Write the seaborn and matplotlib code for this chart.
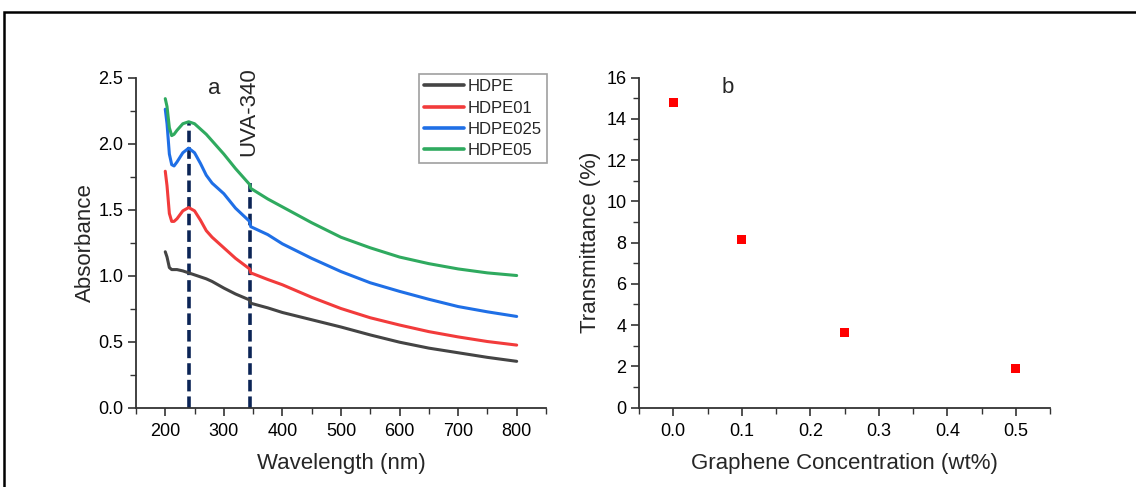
import pandas as pd
import matplotlib.pyplot as plt
import seaborn as sns
from matplotlib.patches import Rectangle
from matplotlib.ticker import MultipleLocator

# (a) absorbance spectra
wavelength = [200, 203, 207, 211, 215, 220, 230, 240, 250, 260, 270, 280, 290, 300, 320,
              344, 346, 375, 400, 450, 500, 550, 600, 650, 700, 750, 800]
hdpe = [1.18, 1.14, 1.06, 1.045, 1.045, 1.045, 1.035, 1.02, 1.005, 0.99, 0.975, 0.955, 0.93, 0.905, 0.86,
        0.815, 0.79, 0.755, 0.72, 0.665, 0.61, 0.55, 0.495, 0.45, 0.415, 0.38, 0.35]
hdpe01 = [1.79, 1.68, 1.47, 1.41, 1.41, 1.43, 1.49, 1.515, 1.49, 1.42, 1.34, 1.29, 1.25, 1.21, 1.13,
          1.05, 1.02, 0.97, 0.93, 0.835, 0.75, 0.68, 0.625, 0.575, 0.535, 0.50, 0.473]
hdpe025 = [2.26, 2.15, 1.92, 1.84, 1.83, 1.86, 1.93, 1.965, 1.93, 1.85, 1.76, 1.70, 1.66, 1.62, 1.51,
           1.41, 1.37, 1.31, 1.24, 1.13, 1.03, 0.945, 0.88, 0.82, 0.765, 0.725, 0.69]
hdpe05 = [2.34, 2.28, 2.12, 2.06, 2.07, 2.10, 2.15, 2.165, 2.15, 2.11, 2.07, 2.02, 1.97, 1.92, 1.81,
          1.69, 1.66, 1.58, 1.52, 1.40, 1.29, 1.21, 1.14, 1.09, 1.05, 1.02, 1.00]
samples = ["HDPE", "HDPE01", "HDPE025", "HDPE05"]
colors = ["#444444", "#f23b3b", "#1f6fe6", "#2faa5f"]

# marker lines: 240 nm peak and UVA-340
marker_x = [240, 345]
marker_top = [2.17, 1.70]

# (b) transmittance
concentration = [0.0, 0.1, 0.25, 0.5]
transmittance = [14.78, 8.16, 3.62, 1.91]

rows = []
for name, vals in zip(samples, [hdpe, hdpe01, hdpe025, hdpe05]):
    for w, v in zip(wavelength, vals):
        rows.append({"wavelength": w, "absorbance": v, "sample": name})
df = pd.DataFrame(rows)
df_b = pd.DataFrame({"conc": concentration, "trans": transmittance})

sns.set_style("ticks")
plt.rcParams['font.family'] = ['Liberation Sans', 'DejaVu Sans']

fig = plt.figure(figsize=(11.36, 4.87), dpi=100)
ax1 = fig.add_axes([0.1197, 0.1632, 0.3609, 0.6776])
ax2 = fig.add_axes([0.5625, 0.1632, 0.3618, 0.6776])

sns.lineplot(data=df, x="wavelength", y="absorbance", hue="sample", hue_order=samples,
             palette=colors, linewidth=2.2, ax=ax1, legend=False)
for x, top in zip(marker_x, marker_top):
    ax1.plot([x, x], [0, top], color="#0b2456", linewidth=2.6, dashes=(3.2, 1.4), zorder=1)

handles = [plt.Line2D([], [], color=c, linewidth=2.6) for c in colors]
leg = ax1.legend(handles, samples, loc="upper right", bbox_to_anchor=(1.01, 1.02), fontsize=12,
                 frameon=True, fancybox=False, handlelength=2.4, handletextpad=0.2,
                 labelspacing=0.38, borderpad=0.3, borderaxespad=0.2)
leg.get_frame().set_edgecolor("#888888")
leg.get_frame().set_linewidth(1.2)

ax1.set_xlim(150, 850)
ax1.set_ylim(0, 2.5)
ax1.xaxis.set_major_locator(MultipleLocator(100))
ax1.xaxis.set_minor_locator(MultipleLocator(50))
ax1.yaxis.set_major_locator(MultipleLocator(0.5))
ax1.yaxis.set_minor_locator(MultipleLocator(0.25))
ax1.set_xlabel("Wavelength (nm)", fontsize=16, labelpad=9)
ax1.set_ylabel("Absorbance", fontsize=16, labelpad=2)
ax1.text(284, 2.42, "a", fontsize=16, ha="center", va="center")
ax1.text(342, 2.58, "UVA-340", fontsize=16, rotation=90, ha="center", va="top", clip_on=False)

sns.scatterplot(data=df_b, x="conc", y="trans", marker="s", color="#ff0000", s=40,
                edgecolor="none", ax=ax2)
ax2.set_xlim(-0.05, 0.55)
ax2.set_ylim(0, 16)
ax2.xaxis.set_major_locator(MultipleLocator(0.1))
ax2.xaxis.set_minor_locator(MultipleLocator(0.05))
ax2.yaxis.set_major_locator(MultipleLocator(2))
ax2.yaxis.set_minor_locator(MultipleLocator(1))
ax2.set_xlabel("Graphene Concentration (wt%)", fontsize=16, labelpad=9)
ax2.set_ylabel("Transmittance (%)", fontsize=16)
ax2.text(0.079, 15.5, "b", fontsize=16, ha="center", va="center")

for ax in (ax1, ax2):
    sns.despine(ax=ax)
    for s in ("left", "bottom"):
        ax.spines[s].set_color("#333333")
        ax.spines[s].set_linewidth(1.3)
    ax.tick_params(which="major", length=5.5, width=1.2, color="#333333", labelsize=13,
                   labelcolor="black", direction="out")
    ax.tick_params(which="minor", length=4, width=1.0, color="#333333", direction="out")
    ax.tick_params(axis="x", which="major", pad=6)

# outer frame of the figure
fig.patches.append(Rectangle((4 / 1136, -0.2), 1.2, 1.2 - 12 / 487, transform=fig.transFigure,
                             fill=False, edgecolor="black", linewidth=1.8))

fig.savefig("out.png", dpi=100)
